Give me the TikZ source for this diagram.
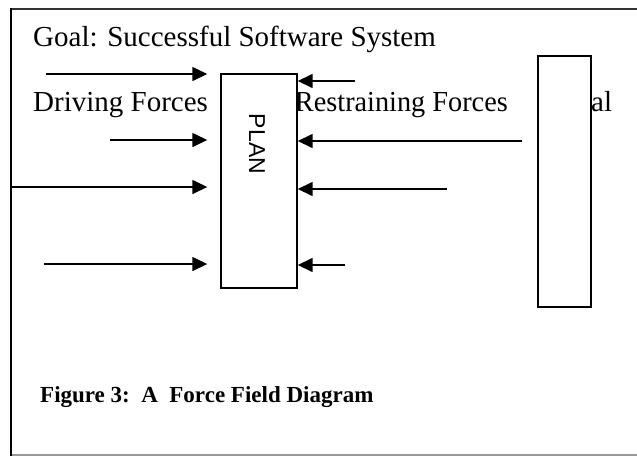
\documentclass[tikz,border=0pt]{standalone}
\usepackage{fontspec}
\setmainfont{Liberation Serif}
\newfontfamily\arialfont{Liberation Sans}
\usetikzlibrary{arrows.meta}
\begin{document}
\begin{tikzpicture}[x=1pt,y=-1pt,
  lbl/.style={anchor=base west,inner sep=0pt,font=\fontsize{29}{32}\selectfont},
  captiontext/.style={anchor=base west,inner sep=0pt,font=\fontsize{23}{26}\selectfont\bfseries},
  force/.style={line width=1.5pt,-{Triangle[length=15pt,width=14pt]}},
  drive/.style={force,shorten >=13pt},
  bar/.style={draw,line width=1.4pt,fill=white,inner sep=0pt}]
\useasboundingbox (0,0) rectangle (637,456);
% frame
\draw[line width=2pt,black!80] (11,9) -- (637,9);
\draw[line width=1.2pt,black!40] (11,455) -- (637,455);
\draw[line width=2pt] (11,8) -- (11,456);

% labels
\node[lbl] (goal) at (33,46) {Goal: Successful Software System};
\node[lbl] (drv) at (33,111) {Driving Forces};
\node[lbl,anchor=base east] (rst) at (508,111) {\scalebox{0.975}[1]{Restraining Forces}};
\node[lbl] (al) at (591,111) {al};
\node[captiontext] (fig) at (40,402) {Figure 3:\ \ A\ \ Force Field Diagram};

% boxes
\node[bar,minimum width=76pt,minimum height=214pt] (plan) at (259,181) {};
\node[font=\arialfont\fontsize{23}{24}\selectfont,rotate=-90,inner sep=0pt] (plantxt) at (257,144) {PLAN};
\node[bar,minimum width=53pt,minimum height=251pt] (goalbar) at (564.5,181.5) {};

% driving forces
\coordinate (d1) at (46,74);
\coordinate (d2) at (110,140);
\coordinate (d3) at (11,187);
\coordinate (d4) at (44,264);
\draw[drive] (d1) -- (d1 -| plan.west);
\draw[drive] (d2) -- (d2 -| plan.west);
\draw[drive] (d3) -- (d3 -| plan.west);
\draw[drive] (d4) -- (d4 -| plan.west);

% restraining forces
\coordinate (r1) at (355,81);
\coordinate (r2) at (522,141);
\coordinate (r3) at (447,189);
\coordinate (r4) at (345,265);
\draw[force] (r1) -- (r1 -| plan.east);
\draw[force] (r2) -- (r2 -| plan.east);
\draw[force] (r3) -- (r3 -| plan.east);
\draw[force] (r4) -- (r4 -| plan.east);
\end{tikzpicture}
\end{document}
